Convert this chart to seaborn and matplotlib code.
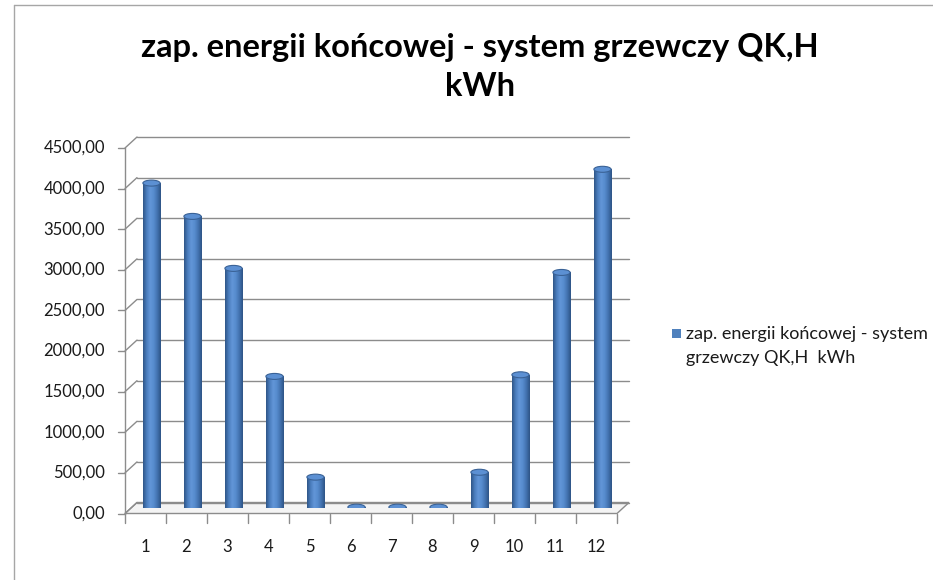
import numpy as np
import pandas as pd
import matplotlib
matplotlib.use("Agg")
import matplotlib.pyplot as plt
import seaborn as sns
from matplotlib.patches import Ellipse, Polygon, Rectangle
from matplotlib.lines import Line2D
from matplotlib.colors import LinearSegmentedColormap

# ---- data ----
categories = ["1", "2", "3", "4", "5", "6", "7", "8", "9", "10", "11", "12"]
values = [4000, 3590, 2950, 1620, 380, 10, 10, 10, 440, 1640, 2900, 4170]
yticks = [0, 500, 1000, 1500, 2000, 2500, 3000, 3500, 4000, 4500]
title_text = "zap. energii końcowej - system grzewczy QK,H\nkWh"
series_label = "zap. energii końcowej - system\ngrzewczy QK,H  kWh"

sns.set_theme(style="white")
plt.rcParams["font.family"] = ["Lato", "DejaVu Sans"]

W, H = 933, 580
fig = plt.figure(figsize=(W / 100, H / 100), dpi=100)
fig.patch.set_facecolor("white")

# mid-depth axes in pixel geometry
left_px, right_px = 131, 623
zero_px, top_px = 508, 142.5
ax = fig.add_axes([left_px / W, (H - zero_px) / H,
                   (right_px - left_px) / W, (zero_px - top_px) / H])
ax.set_xlim(-0.5, 11.5)
ax.set_ylim(0, 4500)
ax.axis("off")

px_x = (right_px - left_px) / 12.0          # px per x unit
px_y = (zero_px - top_px) / 4500.0          # px per y unit
ox = 6 / px_x                               # depth offset in data units
oy = 5.5 / px_y

grid_c = "#8c8c8c"
lw = 1.0

# floor
floor = Polygon([(-0.5 - ox, -oy), (11.5 - ox, -oy), (11.5 + ox, oy), (-0.5 + ox, oy)],
                closed=True, facecolor="#f4f4f4", edgecolor=grid_c, lw=lw, clip_on=False, zorder=1)
ax.add_patch(floor)

# back wall gridlines + left diagonals + front axis ticks
for v in yticks:
    ax.add_line(Line2D([-0.5 + ox, 11.5 + ox], [v + oy, v + oy], color=grid_c, lw=lw,
                       clip_on=False, zorder=1))
    ax.add_line(Line2D([-0.5 - ox, -0.5 + ox], [v - oy, v + oy], color=grid_c, lw=lw,
                       clip_on=False, zorder=1))
    ax.add_line(Line2D([-0.5 - ox - 7 / px_x, -0.5 - ox], [v - oy, v - oy], color=grid_c,
                       lw=lw, clip_on=False, zorder=1))
    ax.text(-0.5 - ox - 20 / px_x, v - oy, f"{v:.2f}".replace(".", ","), ha="right",
            va="center", fontsize=12, color="#1a1a1a", clip_on=False)

ax.add_line(Line2D([-0.5 - ox, -0.5 - ox], [-oy, 4500 - oy], color=grid_c, lw=lw,
                   clip_on=False, zorder=1))

# x ticks and labels on the front edge
for k in range(13):
    xk = k - 0.5 - ox
    ax.add_line(Line2D([xk, xk], [-oy, -oy - 9 / px_y], color=grid_c, lw=lw, clip_on=False))
for i, c in enumerate(categories):
    ax.text(i - ox, -oy - 33 / px_y, c, ha="center", va="center", fontsize=12,
            color="#1a1a1a", clip_on=False)

# bars
df = pd.DataFrame({"month": categories, "value": values})
bar_w = 0.42
sns.barplot(data=df, x="month", y="value", color="#4F81BD", width=bar_w,
            saturation=1, ax=ax, zorder=3, linewidth=0)
ax.set_xlim(-0.5, 11.5)
ax.set_ylim(0, 4500)

cmap = LinearSegmentedColormap.from_list(
    "cyl", ["#2f5688", "#4a7dbd", "#6296d8", "#578cce", "#4373b0", "#2e5486"])
grad = np.linspace(0, 1, 64).reshape(1, -1)
eh = 6 / px_y
for i, p in enumerate(ax.patches[-len(values):]):
    x0 = p.get_x()
    w = p.get_width()
    v = values[i]
    bottom = Ellipse((x0 + w / 2, 0), w, eh, facecolor="#4F81BD", lw=0, zorder=3)
    ax.add_patch(bottom)
    for shape in (p, bottom):
        im = ax.imshow(grad, extent=[x0, x0 + w, -eh, v + eh], aspect="auto", cmap=cmap,
                       zorder=3.5, interpolation="bilinear")
        im.set_clip_path(shape)
    top = Ellipse((x0 + w / 2, v), w, eh, facecolor="#5c90d3", edgecolor="#3a6296",
                  lw=0.8, zorder=4)
    ax.add_patch(top)
ax.set_xlim(-0.5, 11.5)
ax.set_ylim(0, 4500)

# title
fig.text(480 / W, 1 - 67 / H, title_text, ha="center", va="center", fontsize=23.5,
         fontweight="bold", color="#000000", linespacing=1.4)

# legend
fig.add_artist(Rectangle((672 / W, 1 - 338 / H), 9 / W, 9 / H, transform=fig.transFigure,
                         facecolor="#4F81BD", edgecolor="none"))
fig.text(686 / W, 1 - 346 / H, series_label, ha="left", va="center", fontsize=13,
         color="#1a1a1a", linespacing=1.55)

# outer border fragments
fig.add_artist(Line2D([14 / W, 1], [1 - 5 / H, 1 - 5 / H], transform=fig.transFigure,
                      color="#a6a6a6", lw=1))
fig.add_artist(Line2D([14 / W, 14 / W], [0, 1 - 5 / H], transform=fig.transFigure,
                      color="#a6a6a6", lw=1))

fig.savefig("out.png", dpi=100)
